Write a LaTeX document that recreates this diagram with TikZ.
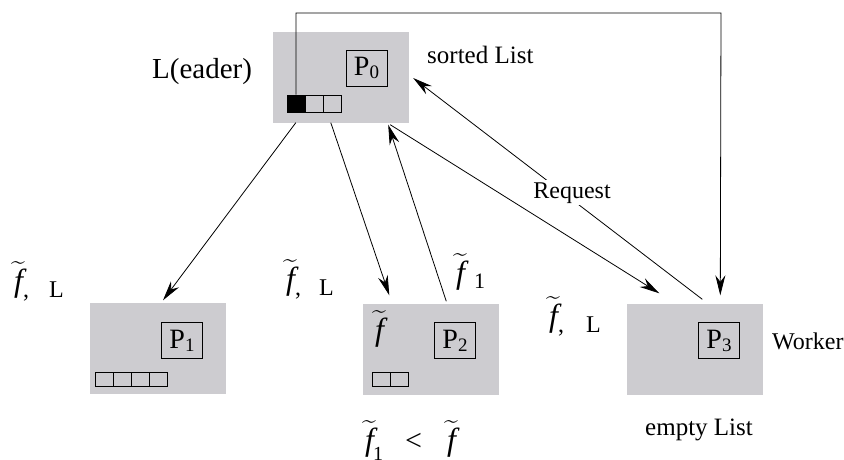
\documentclass[tikz,border=0pt]{standalone}
\usepackage{fontspec}
\usepackage{exscale}
\setmainfont{Liberation Serif}
\usetikzlibrary{arrows.meta}
\definecolor{boxgray}{RGB}{205,204,208}
% f with a wide tilde
\newcommand{\ftil}{{\fontsize{28}{32}\selectfont$\widetilde{\hbox{\fontsize{32}{36}\selectfont\itshape f}}$}}
\newcommand{\psub}[1]{P\raisebox{-3pt}{\fontsize{19}{20}\selectfont #1}}
\begin{document}
\begin{tikzpicture}[x=1pt,y=-1pt,
  proc/.style={fill=boxgray, minimum width=136pt, minimum height=91pt, inner sep=0pt, draw=none},
  plabel/.style={draw=black, fill=boxgray, line width=0.8pt, minimum width=41pt, minimum height=36pt, inner sep=0pt, font=\fontsize{28}{32}\selectfont},
  cell/.style={draw=black, line width=0.8pt, minimum width=18pt, inner sep=0pt},
  arr/.style={-{Stealth[length=20pt,width=10pt]}, line width=0.8pt},
  txt/.style={inner sep=0pt, anchor=base west, font=\fontsize{24}{28}\selectfont}]
\useasboundingbox (0,0) rectangle (844,459);

% processors
\node[proc] (p0) at (341,77) {};
\node[plabel] (l0) at (366.5,68) {\psub{0}};
\node[cell, minimum height=17pt, fill=black] (c01) at (296,103.5) {};
\node[cell, minimum height=17pt, fill=boxgray] (c02) at (314,103.5) {};
\node[cell, minimum height=17pt, fill=boxgray] (c03) at (332,103.5) {};

\node[proc] (p1) at (158,348) {};
\node[plabel] (l1) at (182,340.5) {\psub{1}};
\node[cell, minimum height=14pt] (c11) at (104,379) {};
\node[cell, minimum height=14pt] (c12) at (122,379) {};
\node[cell, minimum height=14pt] (c13) at (140,379) {};
\node[cell, minimum height=14pt] (c14) at (158,379) {};

\node[proc] (p2) at (430.5,349) {};
\node[plabel] (l2) at (455,340.5) {\psub{2}};
\node[cell, minimum height=14pt] (c21) at (381,379) {};
\node[cell, minimum height=14pt] (c22) at (399,379) {};

\node[proc] (p3) at (694.5,349) {};
\node[plabel] (l3) at (719,340.5) {\psub{3}};

% connectors
\draw[arr] ([xshift=23pt]p0.south west) -- ([xshift=5pt,yshift=2pt]p1.north);
\draw[arr] ([xshift=58pt]p0.south west) -- ([xshift=27pt,yshift=8pt]p2.north west);
\draw[arr] ([xshift=84pt,yshift=2pt]p2.north west) -- ([xshift=-21pt,yshift=-2pt]p0.south east);
\draw[arr] ([xshift=-19pt,yshift=-2pt]p0.south east) -- ([xshift=33pt,yshift=10pt]p3.north west);
\draw[arr] ([xshift=76pt,yshift=4pt]p3.north west) -- ([xshift=4pt,yshift=-1pt]p0.east);
\coordinate (topr) at (721,13);
\draw[arr] (c01.north) |- (topr) -- ([xshift=94pt,yshift=8pt]p3.north west);

% texts
\node[txt, font=\fontsize{29}{33}\selectfont] (tlead) at (152,78) {L(eader)};
\node[txt, font=\fontsize{25}{29}\selectfont] (tsort) at (427,63) {sorted List};
\node[font=\fontsize{24}{28}\selectfont, fill=white, inner sep=2pt, anchor=base] (treq) at (572,198) {Request};
\node[txt] (tf1) at (14,297) {\raisebox{6pt}{\ftil},\kern20pt L};
\node[txt] (tf2) at (286,295) {\raisebox{6pt}{\ftil},\kern18pt L};
\node[txt] (tf3) at (549,332) {\raisebox{6pt}{\ftil},\kern22pt L};
\node[txt] (tfone) at (456,283) {\ftil\kern9pt\raisebox{-5pt}{\fontsize{22}{24}\selectfont 1}};
\node[txt] (tfin) at (375,340) {\ftil};
\node[txt] (tcmp) at (365,450) {\ftil\kern-1pt\raisebox{-10pt}{\fontsize{20}{22}\selectfont 1}\kern22pt{\fontsize{30}{34}\selectfont <}\kern25pt\ftil};
\node[txt] (twork) at (772,349) {Worker};
\node[txt, font=\fontsize{25}{29}\selectfont] (tempty) at (645,435) {empty List};
\end{tikzpicture}
\end{document}
